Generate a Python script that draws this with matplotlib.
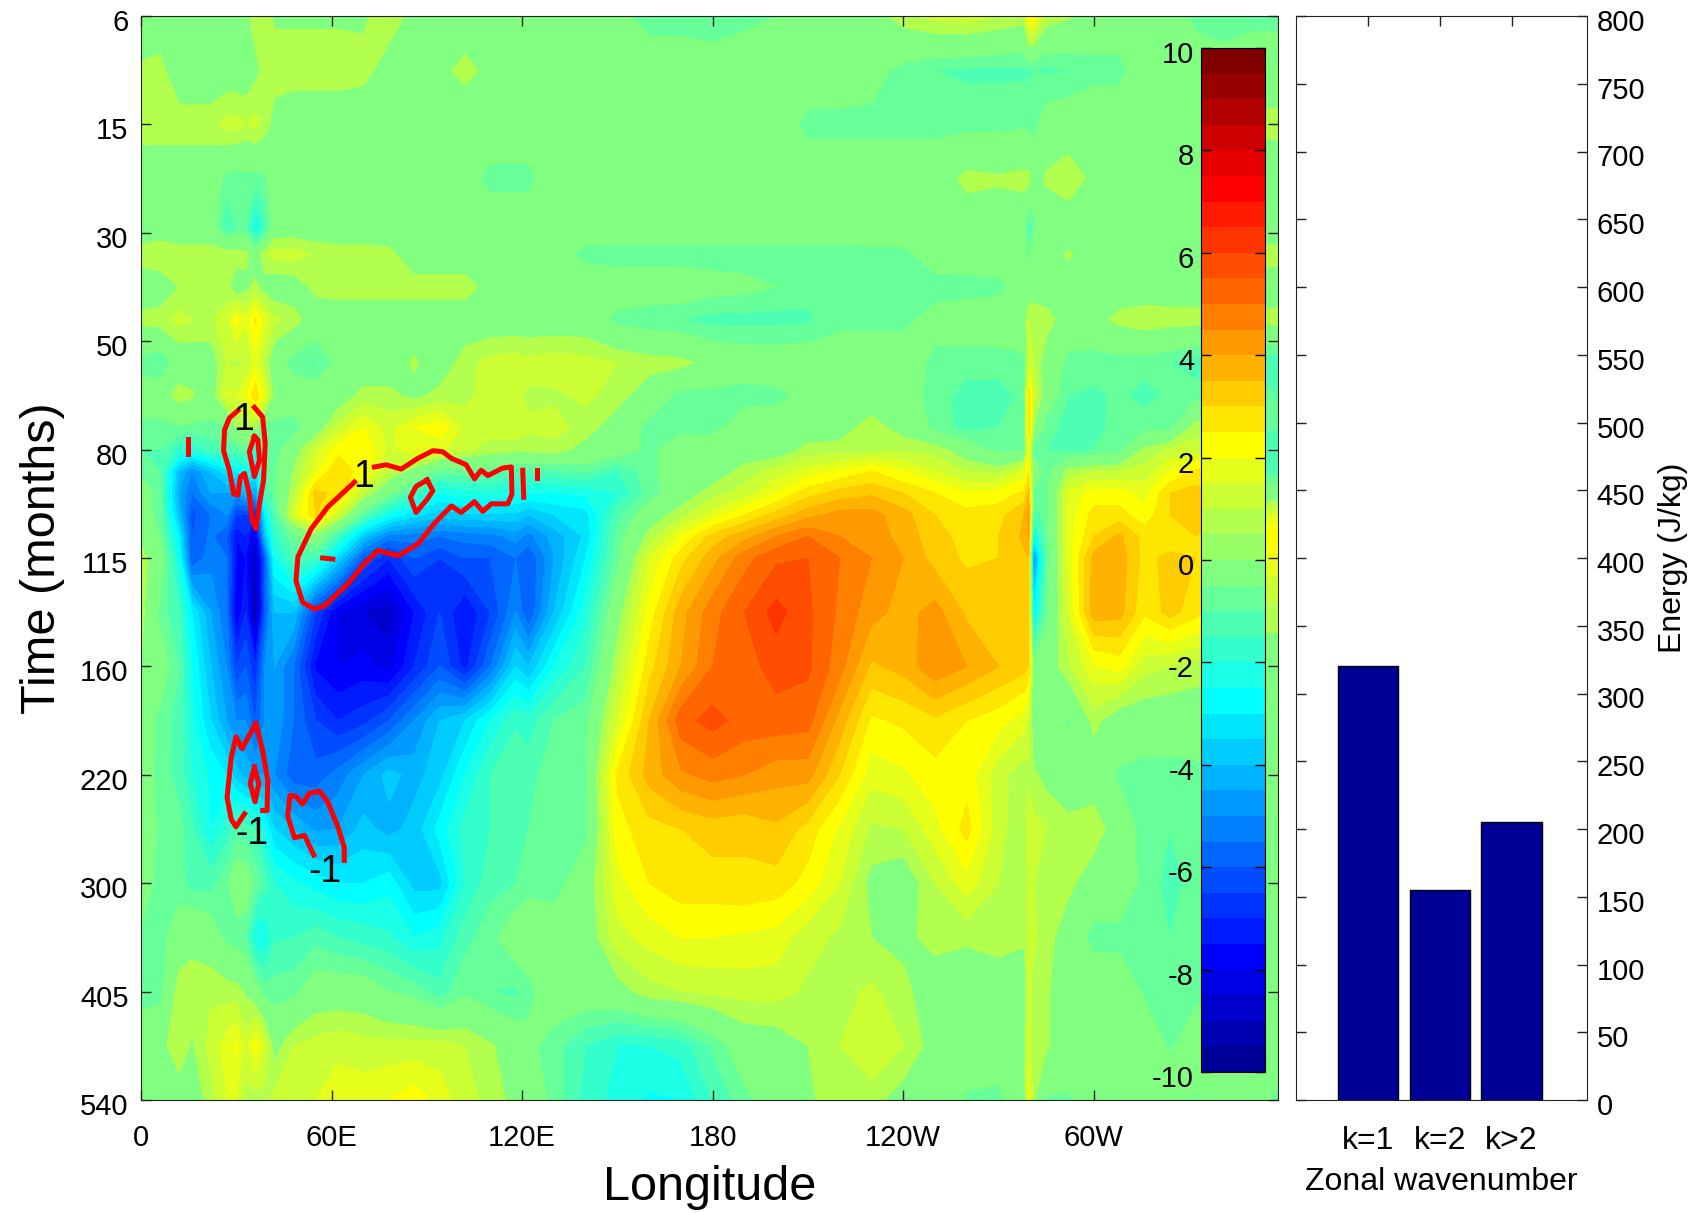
# plot.py
import numpy as np
import matplotlib
matplotlib.use('Agg')
import matplotlib.pyplot as plt
from matplotlib.colors import ListedColormap
from matplotlib.transforms import ScaledTranslation

plt.rcParams['font.family'] = ['Liberation Sans', 'DejaVu Sans']

time_labels = ['6', '15', '30', '50', '80', '115', '160', '220', '300', '405', '540']
lon_ticks = [0, 60, 120, 180, 240, 300]
lon_labels = ['0', '60E', '120E', '180', '120W', '60W']

# rows of the field, in tick units of the (uneven) time axis
time_rows = [0, .5, 1, 1.5, 1.95, 2.2, 2.5, 2.8, 3.2, 3.5, 3.8, 4, 4.2, 4.4, 4.6, 4.8,
             5, 5.5, 6, 6.5, 7, 7.5, 8, 8.5, 9, 9.5, 10]
lon_west = [0, 6, 12, 16, 22, 27, 30, 33, 36, 39, 42, 48, 55, 62, 70, 78, 86, 94, 102, 110,
            118, 122, 130, 140]
lon_east = [150, 160, 170, 180, 190, 200, 210, 220, 230, 240, 250, 260, 270, 278, 279.5, 281,
            285, 292, 300, 308, 316, 324, 332, 340, 350, 358]

field_west = [
    [-.6, 0, 0, 0, 0, 0, 0, .3, .8, .7, .4, .4, .4, .4, .4, .8, .3, 0, 0, 0, 0, 0, 0, 0],
    [.7, .7, 0, 0, 0, 0, 0, 0, .3, .7, .8, .8, .8, .8, .7, .2, 0, .3, .7, .3, 0, 0, 0, 0],
    [.8, .8, .8, .8, .8, 1.2, 1.2, 1, 1.2, .8, .2, 0, 0, 0, 0, 0, 0, 0, 0, 0, 0, 0, 0, 0],
    [0, 0, 0, 0, 0, -.7, -.8, -.7, -.8, -.6, 0, 0, 0, 0, 0, 0, 0, 0, -.2, -.7, -.7, -.7, 0, 0],
    [0, 0, 0, 0, 0, -1.5, -1, -.9, -2.6, -1.5, 0, 0, 0, 0, 0, 0, 0, 0, 0, 0, 0, 0, 0, -.1],
    [.8, 1, .8, .8, .8, .8, .8, .7, 0, .9, 1.2, 1.3, .9, .8, .8, .7, 0, 0, 0, 0, 0, 0, -.2, -.7],
    [0, 0, .5, .8, .8, .7, 0, .3, .7, .2, 0, 0, .7, .8, .8, .8, .8, .8, .8, .2, 0, 0, 0, 0],
    [.7, .8, 1.2, 1, .9, 1.3, 2.2, 1.6, 2.6, 1.7, 1.1, .8, 0, 0, 0, 0, 0, 0, 0, 0, 0, 0, 0, 0],
    [-.8, -1, -.1, 0, .1, 1, .9, 1, 1.7, .9, -.1, -.8, -1.1, -.3, 0, 0, .6, 0, .8, 1.2, 1.3, 1.2, 1.3, 1.2],
    [0, 0, .8, .6, 0, 1.6, 1.5, 1.9, 3, 1.8, .2, 0, 0, 0, .7, .7, .3, .7, .8, 1.3, 1.1, .9, .9, 1.1],
    [-.7, -.7, -.6, -.7, -.7, -.7, .5, .7, .5, -.7, -.8, -.8, 0, 1.2, 2, 1.3, 2, 2.3, 1.4, 1.2, 1.4, 1.1, 1.2, .8],
    [-1, -1, -1.8, -2, -1.3, -1.2, -1, -.9, -2, -.9, -.8, .1, 1.3, 2.3, 2.5, 1.4, 1.9, 1.6, 1.1, .8, .7, .7, .8, .2],
    [-.7, -1, -4, -5, -4, -3.2, -3, -2.5, -3, -1, -.7, .5, 1.8, 3, 2.2, 1, .2, -.8, -.7, -.8, -1.2, -1.2, -1.2, -.9],
    [0, -.8, -4.5, -5.5, -4.5, -4.5, -4.8, -4, -4.5, -1.5, -.7, .8, 3.2, 2.8, 1, -.3, -1.5, -2.5, -2.2, -2.1, -2.4, -2.5, -2.5, -2.4],
    [0, -.8, -4, -6.2, -5.5, -5, -6.5, -6.5, -7, -3, -1.2, 1.5, 3, 1.3, -1, -2.5, -3.3, -3.8, -3.6, -3.6, -3.6, -4, -3.5, -3.2],
    [.3, -.5, -3, -6, -5.4, -6, -7.5, -7, -8.5, -4, -1.8, -.7, .2, -1.5, -3.8, -5.2, -5.3, -5.5, -5.3, -5.2, -4.8, -5.2, -4.3, -3.4],
    [.75, 0, -2.5, -6, -5.2, -5.5, -7.5, -7.5, -9, -6, -2.5, -1.2, -1.5, -3.5, -6, -7, -6, -6.5, -6, -6, -5.5, -6, -4.5, -3],
    [.75, -.7, -1.5, -3, -4.5, -5.5, -8, -7, -9.5, -6, -4, -4, -6.5, -8, -8.5, -8.8, -7.5, -6.5, -7.5, -6.5, -5, -6, -4, -2.2],
    [.5, 0, -1, -2.5, -4, -5, -6.5, -6, -7, -5, -4.5, -5.5, -7.6, -8, -7.8, -8.2, -7, -6, -7.2, -5.5, -3.5, -4, -2.5, -1.5],
    [0, -.7, -1.2, -2.3, -3.5, -4.5, -5, -5, -6, -5, -4.6, -5.5, -6.5, -7, -6.7, -6, -5, -4, -3.5, -2.5, -1.6, -1.8, -1, -.7],
    [0, -.75, -1.2, -2, -2.6, -3, -3.8, -4.2, -4.5, -4.5, -5, -5.8, -5.8, -5.3, -4.5, -3.8, -4.2, -3.7, -2.5, -1.5, -1, -1.2, -.7, -.6],
    [0, -.6, -.8, -1.4, -2.5, -1.8, -1.2, -1.3, -1.5, -2.5, -3.5, -4, -4.6, -4.5, -3.8, -4.2, -3.8, -2.8, -1.8, -1.5, -1, -1, -.7, -.7],
    [0, -.8, -.8, -1.2, -1.2, -.6, 0, 0, -.7, -1.3, -2, -2.4, -2.7, -3, -3, -2.7, -3.7, -3.7, -2, -1.2, -1, -.7, -.8, 0],
    [-.6, -.8, 0, .3, 0, -.7, -.8, -1, -2.5, -2.5, -1.6, -1.5, -1.2, -1.5, -1.7, -1.9, -2.5, -2.2, -1.2, -.7, 0, 0, 0, 0],
    [-.8, -.7, .8, .8, .9, .8, .75, .4, 0, -.75, -.75, -.7, 0, 0, 0, -.5, -.7, -1.3, -.6, -1, -1.1, -.7, 0, 0],
    [0, .2, 1, .4, 1.2, 1.7, 2.1, 1.3, 2.2, 1.5, .2, 1, 1.2, 1.4, 1.2, 1.2, 1.2, 1.2, 1, .6, 0, -.3, -.8, -1.5],
    [0, 0, 0, 0, .8, 1.5, 1.5, .8, .8, .8, 1.2, 1.2, 1.5, 1.7, 1.8, 2, 2.3, 1.8, 1.2, .8, .3, 0, -.7, -1.7],
]
field_east = [
    [-.3, -.8, -.8, -1, -.7, -.5, 0, 0, .2, .8, 1.2, 1.3, 1, .8, 2.5, 2.3, .9, .6, 0, 0, 0, 0, -.7, -1, -.7, -.7],
    [0, 0, 0, 0, 0, 0, 0, 0, -.2, -.7, -1, -1.1, -1.1, -1.1, -1.1, -1, -1.1, -1, -.7, -.7, 0, 0, 0, 0, 0, 0],
    [0, 0, 0, 0, 0, 0, -.7, -.7, -.7, -.7, -.7, -.7, -.7, -.6, -.7, -.7, -.1, 0, 0, 0, 0, 0, 0, 0, .7, .7],
    [0, 0, 0, 0, 0, 0, 0, 0, 0, 0, 0, .7, .6, .7, .7, 0, .6, .9, .3, 0, 0, 0, 0, 0, 0, 0],
    [0, 0, 0, 0, 0, 0, 0, 0, 0, 0, 0, 0, 0, 0, -1.5, -.7, 0, 0, 0, 0, 0, 0, 0, 0, 0, 0],
    [-.8, -.8, -.8, -.8, -.8, -.8, -.8, -.8, -.7, -.7, -.1, 0, 0, 0, -.8, 0, 0, .6, 0, 0, 0, 0, 0, 0, .8, .8],
    [0, 0, 0, -.2, -.3, -.5, -.8, -.8, -.8, -.8, -.8, -.8, -.7, 0, 0, 0, 0, 0, 0, 0, 0, 0, 0, 0, 0, 0],
    [-.7, -.9, -1, -1.2, -1.2, -1.2, -1.1, -.7, -.7, -.7, -.2, 0, 0, .2, 1, 1, .8, 0, .2, .7, .9, .8, .8, .7, .7, .8],
    [1, .8, .7, .2, 0, 0, 0, 0, 0, 0, -.7, -.8, -.8, -.7, 1.2, 1, .1, -.7, -.8, -.8, -.8, -1, -1.3, -1.3, -1.3, -1.5],
    [.8, 0, -.7, -.7, -.8, -.7, -.3, 0, 0, 0, -.8, -1.2, -1.2, -.9, 3, 1.3, .1, -1, -1.1, -.9, -1.2, -.9, -.7, -.7, -.7, -1],
    [0, -.7, -.7, -.7, 0, 0, 0, .2, .8, .2, -.7, -1.2, -1, -.8, 3, .5, -.8, -1.2, -1.2, -.8, -.7, -.7, .8, .8, -.7, -1],
    [0, -.7, 0, 0, 0, 0, .7, .7, .8, .9, .8, 0, -.7, -.7, 2, -.8, -1, -1.2, -1, -.7, .6, 1.1, 1.2, 1.2, -1.5, -1.5],
    [-1.5, -.7, 0, 0, .75, 1.2, 1.7, 2.1, 2.5, 2, 1.5, 1, .8, 1.6, 2.5, 0, -.7, .7, 1, 1, 1.2, 2, 2.6, 2.6, -1.2, -1.2],
    [-2, -.8, 0, .8, 1.2, 2, 2.8, 3.2, 3.4, 3, 2.5, 2, 2.2, 2.6, 3.5, -.6, -.7, 1.6, 2.2, 2.2, 1.8, 3, 3.2, 3, 0, 0],
    [-1.2, 0, .8, 1.7, 2.5, 3.2, 3.8, 4.2, 4.2, 3.7, 3, 2.7, 2.8, 3.5, 4.2, -1.2, -.8, 1.7, 2.7, 2.7, 2.2, 3, 3.3, 3, 1.5, 1.5],
    [-.8, .7, 2, 3.2, 3.8, 4.5, 5, 4.5, 4.3, 3.8, 3.2, 2.8, 3, 3.6, 4, -2.8, -.8, 1.7, 3, 3.6, 2.8, 2.5, 3, 3, 2.5, 2.5],
    [-.7, 1.5, 2.8, 3.8, 4.8, 5.4, 5.5, 5, 4.5, 4, 3.3, 2.9, 3, 3.4, 3.5, -5, -1, 1.7, 3.7, 3.8, 2.8, 3.2, 3, 3, 2, 1.8],
    [.2, 2.2, 3.8, 4.8, 5.5, 6.2, 5.6, 4.9, 4.2, 3.8, 4.2, 3.4, 3.4, 3.5, 3.4, -3, -.7, 1.5, 3.8, 3.7, 2.6, 3.2, 2.7, 2, .8, .8],
    [.8, 2.8, 4, 5, 5.3, 5.7, 5.6, 4.7, 3.4, 3.7, 4.4, 4, 3.5, 3.2, 3, -.3, 0, .9, 1.9, 2.2, 1.2, 1, .8, .7, 0, 0],
    [1.5, 3.5, 5.3, 5.7, 5.3, 5.3, 5.2, 3.8, 2.4, 2.6, 2.9, 2.5, 2.2, 1.7, 1.3, 0, 0, -.6, .7, 0, 0, 0, 0, 0, 0, 0],
    [2.6, 3.7, 4.4, 4.7, 4.5, 4.2, 4.2, 3, 1.7, 1.9, 2.3, 2.3, 1.2, .7, .9, .6, .3, 0, 0, -.6, -.75, -.75, -.7, -.5, -.5, 0],
    [2.3, 2.8, 3, 3.2, 3.1, 3.4, 2.8, 1.9, .9, 1, 1.8, 2.7, 1.2, .6, 1.5, 1.2, 1, .7, .9, 0, -.75, -1, -.8, -.6, .5, 0],
    [1.8, 2.5, 2.8, 2.8, 2.9, 2.8, 2.3, 1.5, .3, 0, 1, 1.8, 1, .7, 1.1, 1, .8, .7, 0, 0, -.7, -1.2, -.8, -.6, 0, 0],
    [1.3, 1.7, 2, 2, 1.9, 1.8, 1.2, .9, .5, .3, .75, .6, .8, .6, 1.1, 1.1, .8, 0, -.7, -.7, -.75, -1, -.7, -.6, 0, 0],
    [.2, .8, 1, 1.1, 1.2, 1.2, .9, .8, 1.1, .7, 0, 0, 0, 0, 1.2, .8, .6, 0, 0, 0, -.6, -.8, -.7, -.5, 0, 0],
    [-2, -2, -1.8, -.9, 0, .1, .5, 1, 1.5, 1, .2, 0, 0, .4, 1.2, .9, .6, 0, 0, 0, 0, -.6, 0, 0, .3, 0],
    [-2.2, -2.6, -2.5, -1.5, -.7, 0, .4, .8, .7, .2, 0, -.6, -.7, 0, 2, .6, -.6, -.6, 0, 0, 0, 0, -.6, 0, 0, -.7],
]

# red contours: (longitude, time position)
red_closed = [
    [(35.7, 3.88), (34.1, 4.02), (35.7, 4.25), (37.3, 4.1), (36.8, 3.91), (35.7, 3.88)],
    [(90.1, 4.28), (86.6, 4.34), (84.8, 4.44), (86.6, 4.58), (90.3, 4.45), (91.9, 4.38), (90.1, 4.28)],
    [(35.7, 6.93), (34.4, 7.08), (35.9, 7.25), (37.1, 7.08), (35.7, 6.93)],
]
red_open = [
    [(30.5, 3.64), (27.8, 3.71), (26.3, 3.82), (26, 4.01), (27.8, 4.19), (29.2, 4.41), (30.5, 4.42),
     (31.3, 4.25), (32.6, 4.22), (34.1, 4.41), (35, 4.65), (36.2, 4.73), (37.3, 4.5), (38.6, 4.28),
     (39.1, 3.94), (38.3, 3.7), (35.7, 3.61)],
    [(67.2, 4.3), (58.8, 4.53), (53.6, 4.73), (49.4, 4.99), (48.8, 5.21), (50.9, 5.41), (54.6, 5.47),
     (57.8, 5.44), (65.1, 5.24), (70.4, 5.05), (74.6, 4.93), (80.9, 4.98), (87.2, 4.87), (92.4, 4.68),
     (97.7, 4.52), (100.8, 4.58), (105, 4.48), (107.6, 4.57), (110.3, 4.5), (115.5, 4.5), (116.8, 4.41),
     (116.6, 4.16), (113.9, 4.17), (109.2, 4.24), (107.1, 4.19), (105, 4.27), (102.4, 4.14), (97.7, 4.08),
     (95, 4.02), (91.9, 4.01), (87.2, 4.08), (81.9, 4.18), (77.2, 4.14), (73.5, 4.16)],
    [(14.9, 3.9), (14.9, 4.04)],
    [(120.2, 4.19), (120.5, 4.44)],
    [(124.6, 4.19), (124.6, 4.26)],
    [(57.2, 5.0), (60.4, 5.01)],
    [(32.6, 7.36), (29.9, 7.48), (28.4, 7.41), (27.1, 7.21), (28.4, 6.84), (29.9, 6.65), (31.8, 6.76),
     (36.2, 6.52), (38.3, 6.78), (39.9, 7.05), (39.7, 7.33), (38.3, 7.33)],
    [(54.4, 7.74), (51.5, 7.56), (48.3, 7.58), (46.2, 7.38), (46.9, 7.19), (48.8, 7.2), (50.9, 7.27),
     (53, 7.17), (56.2, 7.15), (58.8, 7.25), (62, 7.48), (64, 7.67), (64, 7.79)],
]
red_labels = [(32.4, 3.73, '1'), (70, 4.25, '1'), (35, 7.55, '-1'), (58, 7.9, '-1')]

wave_labels = ['k=1', 'k=2', 'k>2']
wave_energy = [320, 155, 205]

W, H = 1699., 1213.
AXC = '#222222'


def box(x0, y0, x1, y1):
    return [x0 / W, 1 - y1 / H, (x1 - x0) / W, (y1 - y0) / H]


def drop_labels(axis, px):
    # the y labels sit a little under their ticks in the original
    shift = ScaledTranslation(0, -px / 100., fig.dpi_scale_trans)
    for lab in axis.get_ticklabels():
        lab.set_transform(lab.get_transform() + shift)


# matlab style jet with 40 entries
u = np.r_[np.arange(1, 11) / 10., np.ones(9), np.arange(10, 0, -1) / 10.]
rgb = np.zeros((40, 3))
for i, v in enumerate(u):
    for chan, shift in ((0, 15), (1, 5), (2, -5)):
        k = i + 1 + shift
        if 1 <= k <= 40:
            rgb[k - 1, chan] = v
band_edges = np.arange(-10, 10.5, .5)
# no contour at zero: the band round it keeps one colour
levels = [e for e in band_edges if e != 0]
fill_colors = list(rgb[:20]) + list(rgb[21:])

lons = np.array(lon_west + lon_east)
field = np.hstack([np.array(field_west), np.array(field_east)])

fig = plt.figure(figsize=(W / 100, H / 100), dpi=100, facecolor='white')
ax = fig.add_axes(box(141, 16, 1278, 1100))
ax.contourf(lons, time_rows, field, levels=levels, colors=fill_colors, antialiased=False)
for seg in red_open + red_closed:
    seg = np.array(seg)
    ax.plot(seg[:, 0], seg[:, 1], color='red', lw=3.6, solid_joinstyle='round')
for x, y, s in red_labels:
    ax.text(x, y, s, fontsize=27, ha='center', va='center', color='black')
ax.set_xlim(0, 358)
ax.set_ylim(10, 0)
ax.set_xticks(lon_ticks)
ax.set_xticklabels(lon_labels)
ax.set_yticks(range(11))
ax.set_yticklabels(time_labels)
ax.tick_params(direction='in', length=7.5, width=1, top=True, right=True, color=AXC, labelsize=21)
ax.tick_params(axis='x', pad=17)
ax.tick_params(axis='y', pad=9)
ax.set_xlabel('Longitude', fontsize=35, labelpad=10)
ax.set_ylabel('Time (months)', fontsize=35, labelpad=11)
for s in ax.spines.values():
    s.set_color(AXC)
drop_labels(ax.yaxis, 4)

# colour bar sits on top of the map
cax = fig.add_axes(box(1201, 48, 1265, 1072))
cax.pcolormesh([0, 1], band_edges, np.arange(40).reshape(-1, 1), cmap=ListedColormap(rgb),
               vmin=-.5, vmax=39.5)
cax.set_xticks([])
cax.set_yticks(range(-10, 11, 2))
cax.set_yticklabels([str(t) for t in range(-10, 11, 2)])
cax.tick_params(direction='in', length=7, width=1, left=True, right=True, labelsize=21, pad=5)
drop_labels(cax.yaxis, 4)

bax = fig.add_axes(box(1296, 16, 1587, 1100))
bars = np.arange(1, len(wave_energy) + 1)
bax.bar(bars, wave_energy, width=.84, color='#000099', edgecolor='black', linewidth=1)
bax.set_xlim(0, 4.05)
bax.set_ylim(0, 800)
bax.set_xticks(bars)
bax.set_xticklabels(wave_labels)
bax.set_yticks(range(0, 801, 50))
bax.yaxis.tick_right()
bax.yaxis.set_label_position('right')
bax.tick_params(axis='y', direction='in', length=7.5, width=1, left=True, right=True, color=AXC,
                labelsize=21, pad=7)
bax.tick_params(axis='x', direction='in', length=7.5, width=1, top=True, bottom=False, color=AXC,
                labelsize=23, pad=19)
bax.set_xlabel('Zonal wavenumber', fontsize=23, labelpad=8)
bax.set_ylabel('Energy (J/kg)', fontsize=23, labelpad=9)
for s in bax.spines.values():
    s.set_color(AXC)
drop_labels(bax.yaxis, 4)

fig.savefig('out.png', dpi=100)
